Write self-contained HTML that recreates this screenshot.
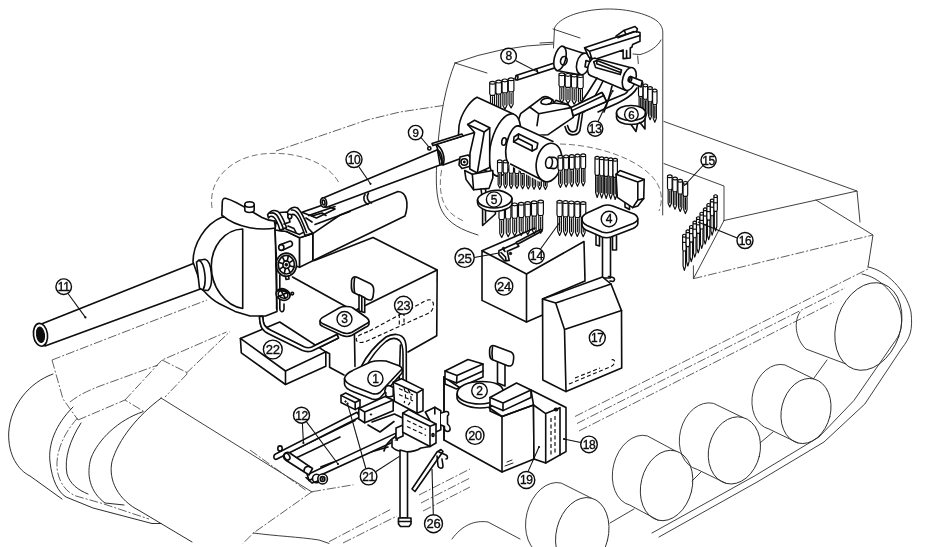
<!DOCTYPE html>
<html><head><meta charset="utf-8"><title>Tank interior diagram</title>
<style>
html,body{margin:0;padding:0;background:#fff;}
body{width:928px;height:547px;overflow:hidden;font-family:"Liberation Sans",sans-serif;}
svg{display:block;}
.h{fill:none;stroke:#2a2a2a;stroke-width:.9;stroke-linecap:round;stroke-linejoin:round;}
.h2{fill:none;stroke:#222;stroke-width:.95;stroke-linecap:round;stroke-linejoin:round;}
.hd{fill:none;stroke:#444;stroke-width:.75;stroke-dasharray:6 3;}
.hc{fill:none;stroke:#383838;stroke-width:.8;stroke-dasharray:9 2 2 2;}
.m{fill:#fff;stroke:#0a0a0a;stroke-width:1.6;stroke-linejoin:round;stroke-linecap:round;}
.n{fill:none;stroke:#0a0a0a;stroke-width:1.6;stroke-linejoin:round;stroke-linecap:round;}
.t{fill:none;stroke:#0a0a0a;stroke-width:.9;stroke-linejoin:round;stroke-linecap:round;}
.k{fill:#0a0a0a;stroke:#0a0a0a;stroke-width:1;}
.md{fill:none;stroke:#0a0a0a;stroke-width:1.15;stroke-dasharray:4 2.5;}
.ld{stroke:#0a0a0a;stroke-width:1.05;}
.lc{fill:#fff;stroke:#0a0a0a;stroke-width:1.4;}
.lt{font-family:"Liberation Sans",sans-serif;text-anchor:middle;fill:#0a0a0a;stroke:#0a0a0a;stroke-width:.35;letter-spacing:-.3px;}
.rd{fill:#fff;stroke:#0a0a0a;stroke-width:1.15;stroke-linejoin:round;}
</style></head><body>
<svg width="928" height="547" viewBox="0 0 928 547">
<defs><filter id="soft" x="0" y="0" width="100%" height="100%" filterUnits="userSpaceOnUse"><feGaussianBlur stdDeviation="0.38"/></filter></defs>
<rect width="928" height="547" fill="#fff"/>
<g filter="url(#soft)">
<g id="hull">
<path class="hc" d="M276,151 L367,120 L400,112 L443,105.5" />
<path class="hd" d="M212,208 C208,180 230,158 262,154 C300,150 330,165 339,183" />
<path class="h" d="M455,63 C446,85 440,115 437.5,150 C435.5,180 435.5,198 442,211 C449,224 462,230 478,235" />
<path class="h" d="M455,63 Q500,46 553,44" />
<path class="h" d="M455,63 L487,73" />
<path class="h" d="M553.5,48 L554.5,28 C559,18 578,11 600,9.3 C625,7.5 648,14 657,21 C661,24.5 662.6,28 662.8,32 L662.7,215" />
<path class="h" d="M553,29 L580,38" />
<path class="h" d="M540,43 L553,42.3" />
<path class="h" d="M633,54 L640,54.6 C650,52 658,46 661,40" />
<path class="h" d="M637.7,56 L638.3,63.6" />
<path class="hd" d="M560,144 C600,145 640,160 655,180 C662,190 663,200 659,211" />
<path class="hd" d="M441.6,170 C438,190 442,206 452,214 C456,217.5 460,219.5 465,221.5" />
<path class="h" d="M664,121.5 L857,191" />
<path class="h" d="M664,163.6 L724,186 L724,220.5" />
<path class="h" d="M724,220.5 L857,191 L860,222" />
<path class="h" d="M816,200 L873,235 L868,267" />
<path class="h" d="M724,220.5 L693.4,278.7 L693.4,265.8" />
<path class="hc" d="M693.4,278.7 L873,235" />
<path class="hc" d="M575,416.5 L868,269" />
<path class="hc" d="M577,423.5 L845,288" />
<path class="hc" d="M579,431 L834,302" />
<path class="h" d="M868,267 C886,270 906,290 911,312 C913,330 910,338 902,348 L864.8,404 L824,442 L758,481.5 L659,537" />
<path class="h" d="M862,274 C880,277 897,295 901,314 C903,328 900,335 893,344 L854,400.4 L819,437 L754.5,476 L652,533" />
<ellipse class="h" cx="868.4" cy="326.5" rx="32" ry="45" transform="rotate(19 868.4 326.5)" />
<path class="h" d="M800,312 C793,322 796,340 806,349 L846,364" />
<ellipse class="h" cx="806" cy="411" rx="24.5" ry="33" transform="rotate(14 806 411)" />
<path class="h" d="M813.983,378.98 L784.983,364.98 A24.5,33 14 0 0 769.017,429.02 L798.017,443.02" />
<ellipse class="h" cx="734.4" cy="450.4" rx="25.6" ry="34" transform="rotate(14 734.4 450.4)" />
<path class="h" d="M742.625,417.41 L713.625,403.41 A25.6,34 14 0 0 697.175,469.39 L726.175,483.39" />
<ellipse class="h" cx="666.6" cy="485.5" rx="25.6" ry="35.7" transform="rotate(14 666.6 485.5)" />
<path class="h" d="M675.237,450.86 L647.237,435.86 A25.6,35.7 14 0 0 629.963,505.14 L657.963,520.14" />
<ellipse class="h" cx="582.3" cy="534" rx="26" ry="37" transform="rotate(14 582.3 534)" />
<path class="h" d="M591.251,498.099 L561.251,483.099 A26,37 14 0 0 543.349,554.901 L573.349,569.901" />
<path class="h" d="M452,539 C462,525 475,520 488,522 L520,539" />
<path class="h" d="M773,432 L760,443" />
<path class="h" d="M827,360 L814,378" />
<path class="h" d="M701,472 L692,481" />
<path class="h" d="M634,509 L610,523" />
<path class="hc" d="M52,360 L207,300" />
<path class="hc" d="M52,360 L63,399 L78,420" />
<path class="hc" d="M78,420 L125,400 L144,411.6" />
<path class="hc" d="M125,400 L162,360 L226.5,332" />
<path class="hc" d="M162,360 L188,373 L165,397" />
<path class="h" d="M161,398 L288,477 L312,492" />
<path class="hc" d="M186,373.5 L230,331.5" />
<path class="hc" d="M70,402 C80,394 90,390 100,386 L158,365" />
<path class="h2" d="M53,374 C30,382 10,405 8.7,433 C8,455 18,470 30,476 L62,499" />
<path class="h2" d="M73,407 C55,425 48,445 50,462 C52,480 58,492 66,497 L93,508 L152,523.5 L161,523.5" />
<path class="hc" d="M77.6,418 C62,435 55,455 57.4,471 C60,485 68,493 76,496 L102,503.4 L149,519" />
<path class="h2" d="M81,423 C70,440 64,458 67,474 C70,484 78,490 88,494" />
<path class="h2" d="M142.8,411.8 C118,420 98,440 91,458 C86,475 90,492 105,503 L124,505" />
<path class="h2" d="M161.4,398 C138,415 118,440 112,461.5 C108,480 118,500 140,511 L192,542" />
<path class="hc" d="M312,491.7 L353.4,484.8" />
<path class="hc" d="M312,491.7 L253.4,533 L243,543.4" />
<path class="h" d="M253.4,533 C275,536 300,537 319,540 L329,543.4" />
<path class="hc" d="M329,541.7 L391.4,509" />
<path class="hc" d="M343,543 L397,516" />
<path class="hc" d="M419,495 L470,469" />
<path class="hc" d="M421,503 L470,478" />
<path class="hc" d="M423,511 L470,487" />
<path class="hc" d="M250,450 L305.5,490" />
</g>
<g id="gun75">
<path class="n" d="M314.4,260.5 L373,237.5 L437.2,270 L436.7,335.7 L408,352" />
<path class="n" d="M437.2,270 L354,311" />
<path class="n" d="M292.5,277 L354,311 L355,366.4" />
<path class="md" d="M369.5,331 L426,300.5 C434,297 436,307 430,312.5 L366,341.5 C356,345 352,338 362,334 Z" />
<path class="md" d="M399.3,314 L399.3,325 M404,312 L404,323" />
<path class="m" d="M39.5,324.7 L198.4,261.5 L203,288 L45,346 Z" />
<ellipse class="m" cx="40.5" cy="334.8" rx="7" ry="11.5" transform="rotate(-8 40.5 334.8)" />
<ellipse class="k" cx="40.5" cy="334.8" rx="4" ry="7.8" transform="rotate(-8 40.5 334.8)" />
<path class="m" d="M222.3,217 C205,224 193,244 193,262 L203,290 C210,298 214,301 219.5,303.7 L235,311.4 L250,316 L265.6,316 L277,311.4 L275,221 Z" />
<path class="m" d="M196.5,262.2 L199,260.2 L205,259.3 C212,261 214,285 208,290.5 L203,290 L199.5,288.3 Z" />
<path class="n" d="M199,260.2 C205,263 207,283 203,290" />
<path class="m" d="M242.7,229 C224,229.5 211.5,247 211.3,266 C211.3,288 226,306 242.7,308.5 Z" />
<path class="m" d="M222.3,202.3 Q222.5,198 225.5,198.2 C238,201.5 250,211 262,217.5 C267,220 271,220.8 274.3,221 L275.7,228 C262,230.5 238,229 221.8,215.2 Z" />
<path class="m" d="M244.8,204.5 L244.8,210.3 C245.5,213.2 253.5,213.2 254.2,210.3 L254.2,204.5" />
<ellipse class="m" cx="249.5" cy="204.5" rx="4.7" ry="2.7" />
<path class="m" d="M312.8,233.6 L340,215 L398,191.5 C407,192 409,204 405,216 L312.8,260.7 Z" />
<path class="n" d="M365,194.5 C362.5,198 364,202.5 368,204.5 M368.5,193 C366,197 367.5,201.5 371.5,203" />
<path class="m" d="M302,212.2 L323.5,204.8 L335,209 L316.5,218 Z" />
<path class="n" d="M308.7,215.5 L335,206.5 M315,224.5 L350,211.5 M306,218 L312,222" />
<path class="m" d="M322,198.5 L437.5,149.8 L440,164.9 L326,207.5 Z" />
<ellipse class="m" cx="323.6" cy="202.5" rx="3" ry="4.7" transform="rotate(-10 323.6 202.5)" />
<ellipse class="n" cx="323.6" cy="202.5" rx="1.3" ry="2.5" transform="rotate(-10 323.6 202.5)" />
<path class="m" d="M275,230 L286.5,231.5 L299.6,237.7 L299.6,267.3 L276.5,259.5 Z" />
<path class="m" d="M299.6,237.7 L312.8,233.6 L312.8,260.7 L299.6,267.3 Z" />
<path class="m" d="M276,222 L287,229.5 L299.6,234.4 L308.7,229.5 L312.8,233.6 L299.6,237.7 L286.5,231.5 L275,230 Z" />
<path class="m" d="M267.6,214.7 C270,211 274,209.5 278,211.5 C281,214 284.5,222 286.5,227.5 L280,230.3 C278.5,225 276,219 273.5,217 C271.5,215.8 269.5,216.5 268.5,218 Z" />
<path class="n" d="M270,213.2 C273,212.3 276,213.5 278,217 C280,220.5 282.5,226 283.5,229" />
<path class="n" d="M279.5,212.5 L287.5,212 L290,222 L284,224" />
<path class="m" d="M287.3,212.2 C289.5,208.5 293.5,206.3 297,207.8 C301,210 305.5,221 308.7,228.7 L312.8,233 L305,235.5 C302.5,228 298.5,218.5 295.5,215.5 C293,213.5 290.5,214.5 289,216.5 Z" />
<path class="n" d="M291.5,210 C295,209.5 297.5,212 299.5,216 C302,221 305,228.5 306.5,232.5" />
<ellipse class="m" cx="289.8" cy="216.5" rx="2" ry="2.2" />
<path class="n" d="M288,226 L294,228.5 L296,232.5" />
<path class="n" d="M312,216 L322,213 L326,215.5" />
<ellipse class="m" cx="286.3" cy="264.7" rx="10.2" ry="11.6" />
<ellipse class="n" cx="286.3" cy="264.7" rx="8" ry="9.3" />
<ellipse class="n" cx="286.3" cy="264.7" rx="3.4" ry="3.8" />
<ellipse class="k" cx="286.3" cy="264.7" rx="1.3" ry="1.4" />
<line class="n" x1="289.6" y1="265.7" x2="294.0" y2="267.1"/>
<line class="n" x1="288.0" y1="268.0" x2="290.3" y2="272.8"/>
<line class="n" x1="285.4" y1="268.4" x2="284.2" y2="273.7"/>
<line class="n" x1="283.4" y1="266.6" x2="279.4" y2="269.3"/>
<line class="n" x1="283.0" y1="263.7" x2="278.6" y2="262.3"/>
<line class="n" x1="284.6" y1="261.4" x2="282.3" y2="256.6"/>
<line class="n" x1="287.2" y1="261.0" x2="288.4" y2="255.7"/>
<line class="n" x1="289.2" y1="262.8" x2="293.2" y2="260.1"/>
<path class="n" d="M285.5,276.3 L286,279.5 L289,279 L288.5,275.8" />
<path class="m" d="M280,244.8 L289.5,241.2 C292.5,240.6 293.5,245 291,246.3 L282.5,250.2" />
<ellipse class="m" cx="281.3" cy="247.5" rx="2.6" ry="2.9" />
<path class="n" d="M276.6,262 L276.6,309 M279.8,275 L279.8,309 C280,312 283,313 284,309.5 L284,304" />
<ellipse class="m" cx="283" cy="294.5" rx="7.2" ry="5.6" transform="rotate(20 283 294.5)" />
<ellipse class="n" cx="283" cy="294.5" rx="5" ry="3.4" transform="rotate(20 283 294.5)" />
<path class="n" d="M277,291 C281,288.5 288,290.5 290.5,295 M278.5,296.5 L287.5,292.5 M281,290.5 L285.5,298.5" />
<ellipse class="n" cx="292.3" cy="293.6" rx="1.3" ry="1.3" />
<path class="m" d="M259.5,316.5 C259.8,327 262.5,331 269,334 L302,350.3 C306,352 310,352 313,350.5 L338.5,338 L337,334.5 L311.7,347 C309.5,348 307,348 304,346.7 L271,330.3 C265,327.5 263,325 262.8,316.5 Z" />
<path class="m" d="M240.4,338.4 L279.7,322 L325.8,351.8 L325.8,366.2 L285.5,384.5 L241.3,352.8 Z" />
<path class="n" d="M325.8,351.8 L329.6,353.7 L329.6,367.2 L344,375" />
<path class="n" d="M240.4,338.4 L285.5,371 L325.8,351.8" />
<path class="n" d="M285.5,371 L285.5,384.5" />
<path class="m" d="M259.5,316.5 C259.8,327 262.5,331 269,334 L302,350.3 C306,352 310,352 313,350.5 L338.5,338 L337,334.5 L311.7,347 C309.5,348 307,348 304,346.7 L271,330.3 C265,327.5 263,325 262.8,316.5 Z" />
<path class="m" d="M351.5,282 C351.3,277.5 354,276 357.5,277.5 L370.5,283.8 C373.8,285.5 374,288.5 373.6,292 L373,297 C372.3,300.5 369.5,300.5 367,299.3 L353.5,292.5 C351.2,291.2 351.2,288 351.5,282 Z" />
<path class="n" d="M354.6,278.3 C353.8,283 353.8,288 354.6,292.7" />
<path class="m" d="M359,294.8 L359,311 L364.7,312.5 L364.7,297.8 Z" />
<path class="n" d="M361.8,296.5 L361.8,311" />
<path class="m" d="M320,321 C320,319.5 320.8,318.6 322.3,317.6 L339.5,307.8 C341.5,306.6 344,306.3 349.8,306.7 C351,306.8 352,307.3 353,308 L366.5,317.5 C368,318.6 369,320 369,321.5 L369,324 C368.8,325.6 367.5,326.5 365.5,327.3 L352,335.3 C349,336.8 345,336.8 341.5,335.3 L323,326.6 C321,325.8 320,325 320,323.5 Z" />
<path class="n" d="M320,321 C320.4,322.4 321.4,323.3 323.4,324 L341.5,332.3 C345,333.8 349,333.8 352,332.3 L365.5,324.3 C367.5,323.5 368.8,322.7 369,321.5" />
</g>
<g id="turret">
<path class="rd" d="M489.7,82.3 Q492.5,80.5 495.3,82.3 L495.3,93.8 L494.516,95.3 L494.516,107.9 L492.5,111.5 L490.484,107.9 L490.484,95.3 L489.7,93.8 Z M489.7,83.5 Q492.5,84.9 495.3,83.5 M490.484,95.3 L494.516,95.3 M492.5,96.3 L492.5,107.9" />
<path class="rd" d="M495.9,81.1 Q498.7,79.3 501.5,81.1 L501.5,92.6 L500.716,94.1 L500.716,106.7 L498.7,110.3 L496.684,106.7 L496.684,94.1 L495.9,92.6 Z M495.9,82.3 Q498.7,83.7 501.5,82.3 M496.684,94.1 L500.716,94.1 M498.7,95.1 L498.7,106.7" />
<path class="rd" d="M502.1,79.9 Q504.9,78.1 507.7,79.9 L507.7,91.4 L506.916,92.9 L506.916,105.5 L504.9,109.1 L502.884,105.5 L502.884,92.9 L502.1,91.4 Z M502.1,81.1 Q504.9,82.5 507.7,81.1 M502.884,92.9 L506.916,92.9 M504.9,93.9 L504.9,105.5" />
<path class="rd" d="M508.3,78.7 Q511.1,76.9 513.9,78.7 L513.9,90.2 L513.116,91.7 L513.116,104.3 L511.1,107.9 L509.084,104.3 L509.084,91.7 L508.3,90.2 Z M508.3,79.9 Q511.1,81.3 513.9,79.9 M509.084,91.7 L513.116,91.7 M511.1,92.7 L511.1,104.3" />
<path class="rd" d="M559,73.8 Q561.8,72 564.6,73.8 L564.6,85.3 L563.816,86.8 L563.816,99.4 L561.8,103 L559.784,99.4 L559.784,86.8 L559,85.3 Z M559,75 Q561.8,76.4 564.6,75 M559.784,86.8 L563.816,86.8 M561.8,87.8 L561.8,99.4" />
<path class="rd" d="M565.2,74.4 Q568,72.6 570.8,74.4 L570.8,85.9 L570.016,87.4 L570.016,100 L568,103.6 L565.984,100 L565.984,87.4 L565.2,85.9 Z M565.2,75.6 Q568,77 570.8,75.6 M565.984,87.4 L570.016,87.4 M568,88.4 L568,100" />
<path class="rd" d="M571.4,75 Q574.2,73.2 577,75 L577,86.5 L576.216,88 L576.216,100.6 L574.2,104.2 L572.184,100.6 L572.184,88 L571.4,86.5 Z M571.4,76.2 Q574.2,77.6 577,76.2 M572.184,88 L576.216,88 M574.2,89 L574.2,100.6" />
<path class="rd" d="M577.6,75.6 Q580.4,73.8 583.2,75.6 L583.2,87.1 L582.416,88.6 L582.416,101.2 L580.4,104.8 L578.384,101.2 L578.384,88.6 L577.6,87.1 Z M577.6,76.8 Q580.4,78.2 583.2,76.8 M578.384,88.6 L582.416,88.6 M580.4,89.6 L580.4,101.2" />
<path class="rd" d="M638.5,82.3 Q640.7,80.5 642.9,82.3 L642.9,95.03 L642.284,96.68 L642.284,110.54 L640.7,114.5 L639.116,110.54 L639.116,96.68 L638.5,95.03 Z M638.5,83.5 Q640.7,84.9 642.9,83.5 M639.116,96.68 L642.284,96.68 M640.7,97.68 L640.7,110.54" />
<path class="rd" d="M643.2,84.9 Q645.4,83.1 647.6,84.9 L647.6,97.63 L646.984,99.28 L646.984,113.14 L645.4,117.1 L643.816,113.14 L643.816,99.28 L643.2,97.63 Z M643.2,86.1 Q645.4,87.5 647.6,86.1 M643.816,99.28 L646.984,99.28 M645.4,100.28 L645.4,113.14" />
<path class="rd" d="M647.9,87.5 Q650.1,85.7 652.3,87.5 L652.3,100.23 L651.684,101.88 L651.684,115.74 L650.1,119.7 L648.516,115.74 L648.516,101.88 L647.9,100.23 Z M647.9,88.7 Q650.1,90.1 652.3,88.7 M648.516,101.88 L651.684,101.88 M650.1,102.88 L650.1,115.74" />
<path class="rd" d="M652.6,90.1 Q654.8,88.3 657,90.1 L657,102.83 L656.384,104.48 L656.384,118.34 L654.8,122.3 L653.216,118.34 L653.216,104.48 L652.6,102.83 Z M652.6,91.3 Q654.8,92.7 657,91.3 M653.216,104.48 L656.384,104.48 M654.8,105.48 L654.8,118.34" />
<path class="m" d="M516,75.6 L563.5,60 L565,64.6 L517.3,80 Z" />
<ellipse class="m" cx="516.6" cy="77.8" rx="1.2" ry="2.2" transform="rotate(18 516.6 77.8)" />
<path class="n" d="M536.5,68.8 L538,73.3" />
<path class="m" d="M561.3,46.2 L583.3,53.3 L580,74.8 L556.5,70.5 Z" />
<ellipse class="m" cx="560" cy="58.4" rx="5.6" ry="12.4" transform="rotate(14 560 58.4)" />
<ellipse class="m" cx="583.3" cy="63.9" rx="6.5" ry="11" transform="rotate(14 583.3 63.9)" />
<ellipse class="n" cx="563.8" cy="60.8" rx="3.2" ry="4.4" transform="rotate(14 563.8 60.8)" />
<path class="m" d="M586,60.5 L592,62.5 L591,68.5 L585,66.8 Z" />
<path class="m" d="M584.6,47.8 L614.4,37.8 L635.7,31.5 L640,32.5 L640,41.3 L632.6,44.6 L632,47 L630.3,48 L630.3,58 L623.1,58.6 L623.1,49.9 L594.6,59.6 L588.7,57 Z" />
<path class="n" d="M584.6,47.8 L589.5,51.3 L640,35.5 M589.5,51.3 L591.7,58.5 M626.6,50.5 L626.6,58.3" />
<path class="n" d="M616,36.2 L624.3,30.2 L635,26.5 L637.4,28.8 L636.5,32 M624.3,30.2 L625.5,33.5 M618,37.8 L634,31.5" />
<ellipse class="m" cx="592.5" cy="66.8" rx="4.4" ry="8.8" transform="rotate(16 592.5 66.8)" />
<path d="M594.8,58.2 L630.5,67.5 L624,90.2 L590.3,75.5 Z" fill="#fff" stroke="none"/>
<path class="n" d="M594.8,58.2 L632,68 M590.3,75.5 L626,90.5" />
<ellipse class="m" cx="629.3" cy="79" rx="6.5" ry="11.8" transform="rotate(16 629.3 79)" />
<path class="n" d="M593.7,61.7 L597,60.4 L621.5,70 L620.2,74.6 L595.6,67.5 Z" />
<path class="n" d="M597,60.4 L596.6,63.8 L620.8,72.4" />
<path class="m" d="M630.5,76.6 L642.2,81.1 L641,87 L629.3,81.7 Z" />
<ellipse class="n" cx="630" cy="79.2" rx="1.7" ry="2.7" transform="rotate(16 630 79.2)" />
<path class="n" d="M597,78 C590,90 583,100 577,108 M603,81 C598,92 590,104 584,112" />
<path class="n" d="M637,88 C630,100 610,106 598,112" />
<path class="n" d="M612,86 C610,95 607,104 604,112" />
<path class="n" d="M579.5,114 L577,128.5 C576,132.5 571,133 569,129.5 L567.5,125.5 M582.5,113.5 L580,130 C578.5,136 569.5,136.5 566.5,131 L565,126.5" />
<path class="n" d="M571,107.6 L602,92.5 L603.8,95.5 L606.5,101.6 L624.6,94 C626.5,93 627.5,92 628,90.5 M606.5,101.6 L573.3,116" />
<path class="m" d="M571,107.6 L602,92.5 L606.5,101.6 L573.3,116 Z" />
<path class="n" d="M572,110.6 L603.8,95.5" />
<path class="m" d="M520.6,113.7 L529.6,107 L541.7,97.8 C544,96.5 546,96.3 547.7,97 L553,100 L553.7,103 L568,104.6 L571,107.6 L573.3,117.4 L547.7,134.8 L513,136.3 Z" />
<path class="n" d="M529.6,107 L538.7,113.7 L537,125.7 M538.7,113.7 L571,107.6" />
<path class="m" d="M541,101.6 C542,98.6 548,97 551.5,99.3 C553,101 551,103.6 548,104.3 C544,105 540.5,104 541,101.6 Z" />
<path class="n" d="M553.7,103 L556,100.3 L568,104.6 M548,104.3 L553.7,103" />
<path class="m" d="M513.3,114 L477,97.3 C470,101 461,113 459,126 C457.5,140 459,152 463,160 L496.7,176 Z" />
<ellipse class="m" cx="505" cy="145" rx="14" ry="32" transform="rotate(15 505 145)" />
<path class="m" d="M436,144.3 L474.6,132.6 L477,152.5 L443,164.9 Z" />
<path class="n" d="M437.5,149.8 C441.5,152 443.5,160 441,165.2 M436,144.5 C442,147 446,158 443,165" />
<path class="m" d="M432,143.6 L462,134 L463,136 L433,145.6 Z" />
<ellipse class="n" cx="429.3" cy="148.4" rx="1.6" ry="1.6" />
<path class="m" d="M460,157 L468,155 L471,158 L471,166 L462,168.5 L459,165 Z" />
<ellipse class="n" cx="464.3" cy="162" rx="3.3" ry="3.3" />
<ellipse class="k" cx="464.3" cy="162" rx="1" ry="1" />
<path class="m" d="M467.7,124.4 L474.6,120.3 L489.7,127.8 L489.7,167.6 L477.3,173 L469.8,169 L470,153 L474.6,132.6 Z" />
<path class="n" d="M467.7,124.4 L484.2,132 L489.7,127.8 M484.2,132 L477.3,173" />
<path class="m" d="M464.7,170.5 L472.3,174.3 L492.8,170.5 L492.8,178 L489,188.4 L473.6,189.7 L466,179.4 Z" />
<path class="n" d="M472.3,174.3 L473.6,189.7" />
<path class="n" d="M481,189 L482,196 L486,196 L485.5,188.7" />
<path class="rd" d="M497.5,160.8 Q499.8,159 502.1,160.8 L502.1,171.48 L501.456,172.88 L501.456,184.64 L499.8,188 L498.144,184.64 L498.144,172.88 L497.5,171.48 Z M497.5,162 Q499.8,163.4 502.1,162 M498.144,172.88 L501.456,172.88 M499.8,173.88 L499.8,184.64" />
<path class="rd" d="M503.2,161 Q505.5,159.2 507.8,161 L507.8,171.68 L507.156,173.08 L507.156,184.84 L505.5,188.2 L503.844,184.84 L503.844,173.08 L503.2,171.68 Z M503.2,162.2 Q505.5,163.6 507.8,162.2 M503.844,173.08 L507.156,173.08 M505.5,174.08 L505.5,184.84" />
<path class="rd" d="M508.9,161.2 Q511.2,159.4 513.5,161.2 L513.5,171.88 L512.856,173.28 L512.856,185.04 L511.2,188.4 L509.544,185.04 L509.544,173.28 L508.9,171.88 Z M508.9,162.4 Q511.2,163.8 513.5,162.4 M509.544,173.28 L512.856,173.28 M511.2,174.28 L511.2,185.04" />
<path class="rd" d="M514.6,161.4 Q516.9,159.6 519.2,161.4 L519.2,172.08 L518.556,173.48 L518.556,185.24 L516.9,188.6 L515.244,185.24 L515.244,173.48 L514.6,172.08 Z M514.6,162.6 Q516.9,164 519.2,162.6 M515.244,173.48 L518.556,173.48 M516.9,174.48 L516.9,185.24" />
<path class="rd" d="M520.3,161.6 Q522.6,159.8 524.9,161.6 L524.9,172.28 L524.256,173.68 L524.256,185.44 L522.6,188.8 L520.944,185.44 L520.944,173.68 L520.3,172.28 Z M520.3,162.8 Q522.6,164.2 524.9,162.8 M520.944,173.68 L524.256,173.68 M522.6,174.68 L522.6,185.44" />
<path class="rd" d="M526,161.8 Q528.3,160 530.6,161.8 L530.6,172.48 L529.956,173.88 L529.956,185.64 L528.3,189 L526.644,185.64 L526.644,173.88 L526,172.48 Z M526,163 Q528.3,164.4 530.6,163 M526.644,173.88 L529.956,173.88 M528.3,174.88 L528.3,185.64" />
<path class="rd" d="M531.7,162 Q534,160.2 536.3,162 L536.3,172.68 L535.656,174.08 L535.656,185.84 L534,189.2 L532.344,185.84 L532.344,174.08 L531.7,172.68 Z M531.7,163.2 Q534,164.6 536.3,163.2 M532.344,174.08 L535.656,174.08 M534,175.08 L534,185.84" />
<path class="rd" d="M537.4,162.2 Q539.7,160.4 542,162.2 L542,172.88 L541.356,174.28 L541.356,186.04 L539.7,189.4 L538.044,186.04 L538.044,174.28 L537.4,172.88 Z M537.4,163.4 Q539.7,164.8 542,163.4 M538.044,174.28 L541.356,174.28 M539.7,175.28 L539.7,186.04" />
<path class="rd" d="M543.1,162.4 Q545.4,160.6 547.7,162.4 L547.7,173.08 L547.056,174.48 L547.056,186.24 L545.4,189.6 L543.744,186.24 L543.744,174.48 L543.1,173.08 Z M543.1,163.6 Q545.4,165 547.7,163.6 M543.744,174.48 L547.056,174.48 M545.4,175.48 L545.4,186.24" />
<ellipse class="m" cx="514.5" cy="145" rx="8" ry="19.5" transform="rotate(12 514.5 145)" />
<path d="M520,126 L558.6,142.4 L561,175 L539.4,181.7 L508.7,164.5 Z" fill="#fff" stroke="none"/>
<path class="n" d="M518.6,125.8 L553,141.5 M510.5,164 L545,181.5" />
<ellipse class="m" cx="549" cy="162.5" rx="12.5" ry="19.5" transform="rotate(12 549 162.5)" />
<path class="n" d="M514,137 L518.6,134 L537.8,143.3 L536.8,148.5 L532.2,151 L513.6,141.8 Z" />
<path class="n" d="M518.6,134 L518.2,138.5 L532.2,145.5 L532.2,151 M518.2,138.5 L513.6,141.8" />
<ellipse class="m" cx="504" cy="141.5" rx="2.2" ry="3.8" transform="rotate(10 504 141.5)" />
<path class="m" d="M549,157.4 L554,157.2 C559,158 559,168 554,168.6 L549,168" />
<ellipse class="m" cx="549" cy="162.7" rx="3.4" ry="5.5" transform="rotate(8 549 162.7)" />
<path class="rd" d="M558,156.3 Q560.4,154.5 562.8,156.3 L562.8,168.62 L562.128,170.22 L562.128,183.66 L560.4,187.5 L558.672,183.66 L558.672,170.22 L558,168.62 Z M558,157.5 Q560.4,158.9 562.8,157.5 M558.672,170.22 L562.128,170.22 M560.4,171.22 L560.4,183.66" />
<path class="rd" d="M563.7,155.9 Q566.1,154.1 568.5,155.9 L568.5,168.22 L567.828,169.82 L567.828,183.26 L566.1,187.1 L564.372,183.26 L564.372,169.82 L563.7,168.22 Z M563.7,157.1 Q566.1,158.5 568.5,157.1 M564.372,169.82 L567.828,169.82 M566.1,170.82 L566.1,183.26" />
<path class="rd" d="M569.4,155.5 Q571.8,153.7 574.2,155.5 L574.2,167.82 L573.528,169.42 L573.528,182.86 L571.8,186.7 L570.072,182.86 L570.072,169.42 L569.4,167.82 Z M569.4,156.7 Q571.8,158.1 574.2,156.7 M570.072,169.42 L573.528,169.42 M571.8,170.42 L571.8,182.86" />
<path class="rd" d="M575.1,155.1 Q577.5,153.3 579.9,155.1 L579.9,167.42 L579.228,169.02 L579.228,182.46 L577.5,186.3 L575.772,182.46 L575.772,169.02 L575.1,167.42 Z M575.1,156.3 Q577.5,157.7 579.9,156.3 M575.772,169.02 L579.228,169.02 M577.5,170.02 L577.5,182.46" />
<path class="rd" d="M580.8,154.7 Q583.2,152.9 585.6,154.7 L585.6,167.02 L584.928,168.62 L584.928,182.06 L583.2,185.9 L581.472,182.06 L581.472,168.62 L580.8,167.02 Z M580.8,155.9 Q583.2,157.3 585.6,155.9 M581.472,168.62 L584.928,168.62 M583.2,169.62 L583.2,182.06" />
<path class="rd" d="M595,157.3 Q597.2,155.5 599.4,157.3 L599.4,173.31 L598.784,175.36 L598.784,192.58 L597.2,197.5 L595.616,192.58 L595.616,175.36 L595,173.31 Z M595,158.5 Q597.2,159.9 599.4,158.5 M595.616,175.36 L598.784,175.36 M597.2,176.36 L597.2,192.58" />
<path class="rd" d="M599.5,157.8 Q601.7,156 603.9,157.8 L603.9,173.81 L603.284,175.86 L603.284,193.08 L601.7,198 L600.116,193.08 L600.116,175.86 L599.5,173.81 Z M599.5,159 Q601.7,160.4 603.9,159 M600.116,175.86 L603.284,175.86 M601.7,176.86 L601.7,193.08" />
<path class="rd" d="M604,158.3 Q606.2,156.5 608.4,158.3 L608.4,174.31 L607.784,176.36 L607.784,193.58 L606.2,198.5 L604.616,193.58 L604.616,176.36 L604,174.31 Z M604,159.5 Q606.2,160.9 608.4,159.5 M604.616,176.36 L607.784,176.36 M606.2,177.36 L606.2,193.58" />
<path class="rd" d="M608.5,158.8 Q610.7,157 612.9,158.8 L612.9,174.81 L612.284,176.86 L612.284,194.08 L610.7,199 L609.116,194.08 L609.116,176.86 L608.5,174.81 Z M608.5,160 Q610.7,161.4 612.9,160 M609.116,176.86 L612.284,176.86 M610.7,177.86 L610.7,194.08" />
<path class="rd" d="M613,159.3 Q615.2,157.5 617.4,159.3 L617.4,175.31 L616.784,177.36 L616.784,194.58 L615.2,199.5 L613.616,194.58 L613.616,177.36 L613,175.31 Z M613,160.5 Q615.2,161.9 617.4,160.5 M613.616,177.36 L616.784,177.36 M615.2,178.36 L615.2,194.58" />
<path class="n" d="M625,200 L625,207 L629.5,209.5 L629.5,203" />
<path class="m" d="M616,174.3 L620,170.5 L644.2,179.4 L643.7,198.6 L637.8,206 L632.7,207.6 L617.3,197.3 Z" />
<path class="n" d="M616,174.3 L637.8,182 L644.2,179.4 M637.8,182 L637.8,200 L632.7,207.6 M637.8,200 L643.7,198.6" />
<path class="rd" d="M499,205.3 Q501.7,203.5 504.4,205.3 L504.4,218.03 L503.644,219.68 L503.644,233.54 L501.7,237.5 L499.756,233.54 L499.756,219.68 L499,218.03 Z M499,206.5 Q501.7,207.9 504.4,206.5 M499.756,219.68 L503.644,219.68 M501.7,220.68 L501.7,233.54" />
<path class="rd" d="M505.5,204.6 Q508.2,202.8 510.9,204.6 L510.9,217.33 L510.144,218.98 L510.144,232.84 L508.2,236.8 L506.256,232.84 L506.256,218.98 L505.5,217.33 Z M505.5,205.8 Q508.2,207.2 510.9,205.8 M506.256,218.98 L510.144,218.98 M508.2,219.98 L508.2,232.84" />
<path class="rd" d="M512,203.9 Q514.7,202.1 517.4,203.9 L517.4,216.63 L516.644,218.28 L516.644,232.14 L514.7,236.1 L512.756,232.14 L512.756,218.28 L512,216.63 Z M512,205.1 Q514.7,206.5 517.4,205.1 M512.756,218.28 L516.644,218.28 M514.7,219.28 L514.7,232.14" />
<path class="rd" d="M518.5,203.2 Q521.2,201.4 523.9,203.2 L523.9,215.93 L523.144,217.58 L523.144,231.44 L521.2,235.4 L519.256,231.44 L519.256,217.58 L518.5,215.93 Z M518.5,204.4 Q521.2,205.8 523.9,204.4 M519.256,217.58 L523.144,217.58 M521.2,218.58 L521.2,231.44" />
<path class="rd" d="M525,202.5 Q527.7,200.7 530.4,202.5 L530.4,215.23 L529.644,216.88 L529.644,230.74 L527.7,234.7 L525.756,230.74 L525.756,216.88 L525,215.23 Z M525,203.7 Q527.7,205.1 530.4,203.7 M525.756,216.88 L529.644,216.88 M527.7,217.88 L527.7,230.74" />
<path class="rd" d="M531.5,201.8 Q534.2,200 536.9,201.8 L536.9,214.53 L536.144,216.18 L536.144,230.04 L534.2,234 L532.256,230.04 L532.256,216.18 L531.5,214.53 Z M531.5,203 Q534.2,204.4 536.9,203 M532.256,216.18 L536.144,216.18 M534.2,217.18 L534.2,230.04" />
<path class="rd" d="M538,201.1 Q540.7,199.3 543.4,201.1 L543.4,213.83 L542.644,215.48 L542.644,229.34 L540.7,233.3 L538.756,229.34 L538.756,215.48 L538,213.83 Z M538,202.3 Q540.7,203.7 543.4,202.3 M538.756,215.48 L542.644,215.48 M540.7,216.48 L540.7,229.34" />
<path class="rd" d="M557,201.3 Q559.6,199.5 562.2,201.3 L562.2,214.85 L561.472,216.6 L561.472,231.3 L559.6,235.5 L557.728,231.3 L557.728,216.6 L557,214.85 Z M557,202.5 Q559.6,203.9 562.2,202.5 M557.728,216.6 L561.472,216.6 M559.6,217.6 L559.6,231.3" />
<path class="rd" d="M562.9,201.6 Q565.5,199.8 568.1,201.6 L568.1,215.15 L567.372,216.9 L567.372,231.6 L565.5,235.8 L563.628,231.6 L563.628,216.9 L562.9,215.15 Z M562.9,202.8 Q565.5,204.2 568.1,202.8 M563.628,216.9 L567.372,216.9 M565.5,217.9 L565.5,231.6" />
<path class="rd" d="M568.8,201.9 Q571.4,200.1 574,201.9 L574,215.45 L573.272,217.2 L573.272,231.9 L571.4,236.1 L569.528,231.9 L569.528,217.2 L568.8,215.45 Z M568.8,203.1 Q571.4,204.5 574,203.1 M569.528,217.2 L573.272,217.2 M571.4,218.2 L571.4,231.9" />
<path class="rd" d="M574.7,202.2 Q577.3,200.4 579.9,202.2 L579.9,215.75 L579.172,217.5 L579.172,232.2 L577.3,236.4 L575.428,232.2 L575.428,217.5 L574.7,215.75 Z M574.7,203.4 Q577.3,204.8 579.9,203.4 M575.428,217.5 L579.172,217.5 M577.3,218.5 L577.3,232.2" />
<path class="rd" d="M580.6,202.5 Q583.2,200.7 585.8,202.5 L585.8,216.05 L585.072,217.8 L585.072,232.5 L583.2,236.7 L581.328,232.5 L581.328,217.8 L580.6,216.05 Z M580.6,203.7 Q583.2,205.1 585.8,203.7 M581.328,217.8 L585.072,217.8 M583.2,218.8 L583.2,232.5" />
<path class="m" d="M482.6,207 L482.6,225.5 L495.4,214 L495.4,209 Z" />
<path class="n" d="M485.5,210 L485.5,221 " />
<path class="m" d="M477.5,200 C477.5,197 481,194.5 486.4,192.2 C491,190.3 495,189.8 499.2,190.4 C505,191.5 512,195.5 512,198.6 L512,203.7 C512,206.5 507,209 501.8,210.5 C497,211.8 491,211.8 486.4,210.5 C481.5,208.8 477.5,206 477.5,202.5 Z" />
<path class="n" d="M477.5,200 C478,203 482,205.8 486.4,207 C491,208.2 497,208.2 501.8,207 C507,205.5 511.5,202.5 512,198.6" />
<path class="m" d="M602.5,236 L602.5,278 L610.5,278 L610.5,236 Z" />
<path class="m" d="M582,219 C582,216 584,214.5 587,213 L603,205.8 C606,204.8 609,204.8 612,205.8 L634,214 C637,215.5 638,217.5 637.8,220 L637.8,223.7 C637.6,226 636,227 633,228.5 L611,237 C608,238 605,238 602,237 L586,230 C583,228.5 582,226 582,224 Z" />
<path class="n" d="M582,219 C582,222 584,224 587,225.5 L602,232 C605,233 608,233 611,232 L633,223.5 C636,222 637.8,221 637.8,219" />
<path class="n" d="M596,235.5 L596,245 L599.5,246 L599.5,236.5 M612.5,237 L612.5,250 L616.5,250 L616.5,236" />
<path class="m" d="M616.5,113 C616.5,108.5 623,105.5 631,105.5 C639,105.5 645.5,108.5 645.5,113 L645.5,117 C645.5,121.5 639,124.5 631,124.5 C623,124.5 616.5,121.5 616.5,117 Z" />
<path class="n" d="M616.5,113 C616.5,117.5 623,120.5 631,120.5 C639,120.5 645.5,117.5 645.5,113" />
<path class="n" d="M631,124.5 L636,131.5 L637.5,124 M640,122.5 L645,129 L645,119" />
</g>
<g id="interior">
<path class="rd" d="M667.5,175.8 Q669.8,174 672.1,175.8 L672.1,188.12 L671.456,189.72 L671.456,203.16 L669.8,207 L668.144,203.16 L668.144,189.72 L667.5,188.12 Z M667.5,177 Q669.8,178.4 672.1,177 M668.144,189.72 L671.456,189.72 M669.8,190.72 L669.8,203.16" />
<path class="rd" d="M672.7,178 Q675,176.2 677.3,178 L677.3,190.32 L676.656,191.92 L676.656,205.36 L675,209.2 L673.344,205.36 L673.344,191.92 L672.7,190.32 Z M672.7,179.2 Q675,180.6 677.3,179.2 M673.344,191.92 L676.656,191.92 M675,192.92 L675,205.36" />
<path class="rd" d="M677.9,180.2 Q680.2,178.4 682.5,180.2 L682.5,192.52 L681.856,194.12 L681.856,207.56 L680.2,211.4 L678.544,207.56 L678.544,194.12 L677.9,192.52 Z M677.9,181.4 Q680.2,182.8 682.5,181.4 M678.544,194.12 L681.856,194.12 M680.2,195.12 L680.2,207.56" />
<path class="rd" d="M683.1,182.4 Q685.4,180.6 687.7,182.4 L687.7,194.72 L687.056,196.32 L687.056,209.76 L685.4,213.6 L683.744,209.76 L683.744,196.32 L683.1,194.72 Z M683.1,183.6 Q685.4,185 687.7,183.6 M683.744,196.32 L687.056,196.32 M685.4,197.32 L685.4,209.76" />
<path class="rd" d="M682.6,235.2 Q684.35,233.4 686.1,235.2 L686.1,249.16 L685.61,250.96 L685.61,266.08 L684.35,270.4 L683.09,266.08 L683.09,250.96 L682.6,249.16 Z M682.6,236.4 Q684.35,237.8 686.1,236.4 M683.09,250.96 L685.61,250.96 " />
<path class="rd" d="M682.6,242.4 L686.1,242.4" />
<path class="rd" d="M686.07,230.8 Q687.82,229 689.57,230.8 L689.57,244.76 L689.08,246.56 L689.08,261.68 L687.82,266 L686.56,261.68 L686.56,246.56 L686.07,244.76 Z M686.07,232 Q687.82,233.4 689.57,232 M686.56,246.56 L689.08,246.56 " />
<path class="rd" d="M686.07,238 L689.57,238" />
<path class="rd" d="M689.54,226.4 Q691.29,224.6 693.04,226.4 L693.04,240.36 L692.55,242.16 L692.55,257.28 L691.29,261.6 L690.03,257.28 L690.03,242.16 L689.54,240.36 Z M689.54,227.6 Q691.29,229 693.04,227.6 M690.03,242.16 L692.55,242.16 " />
<path class="rd" d="M689.54,233.6 L693.04,233.6" />
<path class="rd" d="M693.01,222 Q694.76,220.2 696.51,222 L696.51,235.96 L696.02,237.76 L696.02,252.88 L694.76,257.2 L693.5,252.88 L693.5,237.76 L693.01,235.96 Z M693.01,223.2 Q694.76,224.6 696.51,223.2 M693.5,237.76 L696.02,237.76 " />
<path class="rd" d="M693.01,229.2 L696.51,229.2" />
<path class="rd" d="M696.48,217.6 Q698.23,215.8 699.98,217.6 L699.98,231.56 L699.49,233.36 L699.49,248.48 L698.23,252.8 L696.97,248.48 L696.97,233.36 L696.48,231.56 Z M696.48,218.8 Q698.23,220.2 699.98,218.8 M696.97,233.36 L699.49,233.36 " />
<path class="rd" d="M696.48,224.8 L699.98,224.8" />
<path class="rd" d="M699.95,213.2 Q701.7,211.4 703.45,213.2 L703.45,227.16 L702.96,228.96 L702.96,244.08 L701.7,248.4 L700.44,244.08 L700.44,228.96 L699.95,227.16 Z M699.95,214.4 Q701.7,215.8 703.45,214.4 M700.44,228.96 L702.96,228.96 " />
<path class="rd" d="M699.95,220.4 L703.45,220.4" />
<path class="rd" d="M703.42,208.8 Q705.17,207 706.92,208.8 L706.92,222.76 L706.43,224.56 L706.43,239.68 L705.17,244 L703.91,239.68 L703.91,224.56 L703.42,222.76 Z M703.42,210 Q705.17,211.4 706.92,210 M703.91,224.56 L706.43,224.56 " />
<path class="rd" d="M703.42,216 L706.92,216" />
<path class="rd" d="M706.89,204.4 Q708.64,202.6 710.39,204.4 L710.39,218.36 L709.9,220.16 L709.9,235.28 L708.64,239.6 L707.38,235.28 L707.38,220.16 L706.89,218.36 Z M706.89,205.6 Q708.64,207 710.39,205.6 M707.38,220.16 L709.9,220.16 " />
<path class="rd" d="M706.89,211.6 L710.39,211.6" />
<path class="rd" d="M710.36,200 Q712.11,198.2 713.86,200 L713.86,213.96 L713.37,215.76 L713.37,230.88 L712.11,235.2 L710.85,230.88 L710.85,215.76 L710.36,213.96 Z M710.36,201.2 Q712.11,202.6 713.86,201.2 M710.85,215.76 L713.37,215.76 " />
<path class="rd" d="M710.36,207.2 L713.86,207.2" />
<path class="rd" d="M713.83,195.6 Q715.58,193.8 717.33,195.6 L717.33,209.56 L716.84,211.36 L716.84,226.48 L715.58,230.8 L714.32,226.48 L714.32,211.36 L713.83,209.56 Z M713.83,196.8 Q715.58,198.2 717.33,196.8 M714.32,211.36 L716.84,211.36 " />
<path class="rd" d="M713.83,202.8 L717.33,202.8" />
<path class="m" d="M482,250.7 L526.5,274 L584,241.5 L585,281 L542.6,299 L542.6,315 L526.5,322 L482,300.4 Z" />
<path class="n" d="M526.5,274 L526.5,322" />
<path class="n" d="M482,250.7 L535,228" />
<path class="n" d="M516.3,242.3 L541,229.3 L542,231 L517.5,244.3" />
<path class="m" d="M498.9,250.7 L516.3,243 L518.9,246.2 L507.3,251.3 L509.2,260.4 L504.7,261 L498.9,254.6 Z" />
<path class="n" d="M501,252.5 L505.5,257 L506,260.5 M503,249 L505,251.5" />
<ellipse class="k" cx="503.5" cy="248.5" rx="1.2" ry="1.2" />
<ellipse class="k" cx="510.5" cy="253.5" rx="1.2" ry="1.2" />
<path class="m" d="M542.6,299 L602.5,277 L611,284 L621.5,310.6 L621.7,368 L566,391.6 L542.8,380 Z" />
<path class="n" d="M542.6,299 L555.7,303 L611,284 M555.7,303 L564.5,329.6 L621.5,310.6 M564.5,329.6 L566,391.6" />
<path class="md" d="M569,384 L610,367 C616,365 616,358 611,360 M575,378 L600,368" />
<path class="n" d="M608.5,276.5 L613,277.5 C615,278 615,281 613,281.5 L610,281" />
<path class="m" d="M444,377 L444,440 L502,472 L534,459 L533.5,405 L502,416.5 Z" />
<path class="n" d="M502,416.5 L502,472" />
<path class="n" d="M444,377 L468,365" />
<path class="m" d="M497.5,361 L497.5,383 L505,386 L505,362 Z" />
<path class="m" d="M489.6,350 C489.5,346 492,345 495,346 L511,352 C514,353.5 514,356 513.6,359 L513,363 C512.5,366 510,366.5 507,365.5 L492,359.5 C489.5,358.5 489.5,355 489.6,350 Z" />
<path class="n" d="M492.5,347 C491.8,351 491.8,355 492.5,359.5" />
<path class="m" d="M445,371 L468,359.5 L483,364 L483,371 L456.5,383 L445,378.5 Z" />
<path class="n" d="M445,371 L457,375.5 L483,364 M457,375.5 L456.5,383" />
<path class="n" d="M445,378.5 L445,384 L456.5,389 L483,377 L483,371" />
<path class="m" d="M457,394 C457,386 468,381.5 482,381.5 C494,381.5 503,385 503,391 L503,396 C503,403 493,408 480,408 C467,408 457,402 457,398 Z" />
<path class="n" d="M457,394 C458,400 468,404 480,404 C492,404 503,398 503,391" />
<path class="m" d="M490,397.5 L516.5,383 L531,390 L531,397.5 L503,410.6 L490,405 Z" />
<path class="n" d="M490,397.5 L503,403 L531,390 M503,403 L503,410.6" />
<path class="n" d="M490,405 L490,411 L502,416.5 L533.5,405" />
<path class="m" d="M531,390 L566,407.5 L566,451.6 L545.7,463 L534,459 L533.5,405 Z" />
<path class="n" d="M533.5,405 L545.7,413.6 L545.7,463 M545.7,413.6 L560,407.7 L560,455" />
<path class="md" d="M551,418 L551,456 M555,416 L555,454" />
<ellipse class="n" cx="556" cy="409.5" rx="1.6" ry="1.2" />
<path class="n" d="M444,440 L444,377" />
<path class="t" d="M505,466 L513,463 M507,462 L512,460" />
<path class="m" d="M361,366.8 C366,357 373,347 386,337 C392,333.5 402,332.5 405,340.7 C406.5,345 406.3,350 406.3,354 L406.3,381 L403,381 L403,354 C403,347 402,343 399.5,340.5 C395,337 390,338.5 386,341.5 C378,348 370,359 365,368.5 Z" />
<path class="n" d="M400.4,345 L399.2,380" />
<path class="m" d="M344.5,378.7 C345,375.5 348,372.5 352.8,370.4 L370.6,362 C375,360.6 381,360.6 386,361 L399,365.7 C402,367 403,370 402,373 L380,398 C378,399.5 375,399.8 372,399 L354,392 C349,390 344.5,387 344.5,384 Z" />
<path class="n" d="M344.5,378.7 C345,382 349,384.5 354,386.6 L372,393.5 C375,394.3 378,394 380,392.5 L402,369" />
<path class="n" d="M290,452 L355,420.5 M296,458 L340,437" />
<path class="n" d="M320.7,467 C335,461 355,455 372.5,451.5 L388,447" />
<path class="m" d="M276.5,453.5 L357,412.3 L360,417 L276.5,459.3 C273.5,460 272.5,455 276.5,453.5 Z" />
<ellipse class="m" cx="280" cy="448.5" rx="2.2" ry="2.6" />
<path class="m" d="M307.2,474.6 L395.5,433.4 L397.4,440 L309,480.4 Z" />
<path class="m" d="M284.5,453.8 C286,452 289,452 290.5,453.5 L312.5,468.5 L309,475 L285.5,460 C283,458 283,455.5 284.5,453.8 Z" />
<ellipse class="n" cx="287" cy="456.6" rx="2.6" ry="3.6" transform="rotate(-30 287 456.6)" />
<path class="n" d="M304,471 C304,467 308,465 311,467.5" />
<ellipse class="m" cx="316.5" cy="478.5" rx="4" ry="4.3" />
<ellipse class="m" cx="322.6" cy="479" rx="4.8" ry="5" />
<ellipse class="n" cx="322.6" cy="479" rx="2.3" ry="2.4" />
<ellipse class="k" cx="322.6" cy="479" rx="0.8" ry="0.8" />
<path class="n" d="M306,477.5 L312,483 L318,481" />
<path class="m" d="M341,395.4 L345.7,393 L360,400 L360,407 L355.2,409.6 L341,402.5 Z" />
<path class="n" d="M341,395.4 L355.2,402.5 L360,400 M355.2,402.5 L355.2,409.6" />
<ellipse class="k" cx="345.5" cy="401.5" rx="0.7" ry="0.7" />
<path class="n" d="M372,422 L394.4,414 L402.7,418 L402.7,432.2 L396,436 C390,440 385,446 384,451" />
<path class="m" d="M392,440 L392,447 C398,453 412,453.5 421,448 L430,446.5" />
<path class="m" d="M396,428 L403,425 L403,436 L396,439 Z" />
<path class="n" d="M368,425 L380,432 L394,421.5" />
<path class="m" d="M358.8,408.4 L385,396.6 L393.2,400 L393.2,410.8 L364.7,422.7 L358.8,419 Z" />
<path class="n" d="M358.8,408.4 L364.7,412 L393.2,400 M364.7,412 L364.7,422.7" />
<ellipse class="k" cx="371" cy="414.5" rx="0.7" ry="0.7" />
<path class="m" d="M393.2,382.3 L401.6,378.7 L423,389.4 L423,410.8 L417,413.2 L394.4,401.3 Z" />
<path class="n" d="M393.2,382.3 L417,393 L423,389.4 M417,393 L417,413.2" />
<path class="md" d="M399,388.5 L413,395 M399,394.5 L413,401 M408,390 C412,394 412,402 408,405 M404,388 C406,393 406,399 404,403" />
<path class="m" d="M385.5,389 C385,386 388,385 390.5,386 L393.2,387.5 L393.2,396 L389,397 C386,397 385,395 386,393 C384.5,392 384.5,390 385.5,389 Z" />
<path class="m" d="M425.3,412 L434.8,407.3 L440.8,410.8 L440.8,429.8 L436,432 Z" />
<path class="n" d="M434.8,407.3 L434.8,414" />
<path class="m" d="M441,413 L446,411.5 C449,411 449.5,414.5 447.5,416 L447.5,424 C451,427 451,431 447.5,431.5 C445,431.5 444,429 444.5,426.5 L441,425" />
<path class="m" d="M402.7,413.2 L408.7,409.6 L436,424 L436,443 L430,446.5 L402.7,432.2 Z" />
<path class="n" d="M402.7,413.2 L430,426.3 L436,424 M430,426.3 L430,446.5" />
<path class="md" d="M407,420.5 L426,429.5 M407,426.5 L426,435.5" />
<ellipse class="n" cx="433" cy="435" rx="1" ry="1.5" />
<path class="m" d="M400,450 L400,518 L407.5,518 L407.5,452 Z" />
<path class="m" d="M398.5,518 L411,518 L411,524 L409,526.5 L400.5,526.5 L398.5,524 Z" />
<path class="n" d="M398.5,521.5 L411,521.5" />
<path class="m" d="M412,489 L437,452 L441,449.5 L443,451.5 L415,491.5 Z" />
<path class="n" d="M439,452 L446,455 C448,456 448,459 446,459 M437,456 L438,466 C439,469 443,469 443,466 L442,459" />
</g>
<g id="labels">
<circle class="lc" cx="375.4" cy="378.7" r="7.6"/>
<text class="lt" x="375.4" y="383.02" font-size="12">1</text>
<circle class="lc" cx="479.5" cy="390.8" r="7.8"/>
<text class="lt" x="479.5" y="395.12" font-size="12">2</text>
<circle class="lc" cx="344.5" cy="319" r="7.5"/>
<text class="lt" x="344.5" y="323.32" font-size="12">3</text>
<circle class="lc" cx="609" cy="219" r="7.8"/>
<text class="lt" x="609" y="223.32" font-size="12">4</text>
<circle class="lc" cx="494" cy="199.5" r="7.6"/>
<text class="lt" x="494" y="203.82" font-size="12">5</text>
<circle class="lc" cx="631.4" cy="114.4" r="6.8"/>
<text class="lt" x="631.4" y="118.54" font-size="11.5">6</text>
<line class="ld" x1="515.5" y1="60.5" x2="537" y2="71.6"/>
<circle class="lc" cx="508.6" cy="56" r="7.8"/>
<text class="lt" x="508.6" y="60.32" font-size="12">8</text>
<line class="ld" x1="421" y1="137.5" x2="428.5" y2="146.5"/>
<circle class="lc" cx="415.6" cy="132.6" r="7.2"/>
<text class="lt" x="415.6" y="136.74" font-size="11.5">9</text>
<line class="ld" x1="358.5" y1="166.3" x2="370.5" y2="183.8"/>
<circle class="lc" cx="354" cy="159.5" r="8"/>
<text class="lt" x="354" y="163.82" font-size="12">10</text>
<line class="ld" x1="68" y1="293.5" x2="85.4" y2="317.4"/>
<circle class="lc" cx="63.7" cy="286.7" r="7.8"/>
<text class="lt" x="63.7" y="291.02" font-size="12">11</text>
<line class="ld" x1="302.4" y1="423.2" x2="303.4" y2="443"/>
<line class="ld" x1="306.5" y1="421.9" x2="338" y2="464"/>
<circle class="lc" cx="301.5" cy="415.2" r="8"/>
<text class="lt" x="301.5" y="419.52" font-size="12">12</text>
<line class="ld" x1="598" y1="121.4" x2="612.6" y2="91"/>
<circle class="lc" cx="595.2" cy="128.7" r="7.6"/>
<text class="lt" x="595.2" y="133.02" font-size="12">13</text>
<line class="ld" x1="540.5" y1="249" x2="560" y2="222"/>
<circle class="lc" cx="536.4" cy="255.9" r="7.8"/>
<text class="lt" x="536.4" y="260.364" font-size="12.4">14</text>
<line class="ld" x1="703" y1="165.5" x2="684" y2="186"/>
<circle class="lc" cx="708.6" cy="160.3" r="7.6"/>
<text class="lt" x="708.6" y="164.62" font-size="12">15</text>
<line class="ld" x1="737.2" y1="238" x2="698" y2="222"/>
<circle class="lc" cx="745" cy="240.5" r="8"/>
<text class="lt" x="745" y="244.82" font-size="12">16</text>
<circle class="lc" cx="597.3" cy="337.8" r="8"/>
<text class="lt" x="597.3" y="342.12" font-size="12">17</text>
<line class="ld" x1="580.7" y1="442.5" x2="564" y2="439"/>
<circle class="lc" cx="589" cy="444.4" r="8.3"/>
<text class="lt" x="589" y="448.72" font-size="12">18</text>
<line class="ld" x1="528" y1="471.6" x2="539" y2="447"/>
<circle class="lc" cx="526.3" cy="480" r="8.5"/>
<text class="lt" x="526.3" y="484.32" font-size="12">19</text>
<circle class="lc" cx="475" cy="435.4" r="9"/>
<text class="lt" x="475" y="439.936" font-size="12.6">20</text>
<line class="ld" x1="365.8" y1="468.5" x2="347.5" y2="403.6"/>
<line class="ld" x1="375.6" y1="471.8" x2="399.4" y2="456.4"/>
<circle class="lc" cx="368.6" cy="476.6" r="8.3"/>
<text class="lt" x="368.6" y="480.92" font-size="12">21</text>
<circle class="lc" cx="272.8" cy="349.5" r="9.4"/>
<text class="lt" x="272.8" y="354.18" font-size="13">22</text>
<circle class="lc" cx="403.5" cy="305.3" r="9"/>
<text class="lt" x="403.5" y="309.836" font-size="12.6">23</text>
<circle class="lc" cx="504" cy="286.3" r="8.8"/>
<text class="lt" x="504" y="290.98" font-size="13">24</text>
<line class="ld" x1="474.2" y1="257.5" x2="499" y2="253"/>
<circle class="lc" cx="464.6" cy="257.8" r="9.6"/>
<text class="lt" x="464.6" y="262.588" font-size="13.3">25</text>
<line class="ld" x1="432" y1="469" x2="433.3" y2="514.7"/>
<circle class="lc" cx="433.5" cy="523.7" r="9"/>
<text class="lt" x="433.5" y="528.38" font-size="13">26</text>
<circle cx="370.5" cy="183.8" r="1.1" fill="#0a0a0a"/>
<circle cx="85.4" cy="317.4" r="1.1" fill="#0a0a0a"/>
<circle cx="612.6" cy="91" r="1.1" fill="#0a0a0a"/>
<circle cx="539" cy="447" r="1.1" fill="#0a0a0a"/>
<circle cx="564" cy="439" r="1.1" fill="#0a0a0a"/>
<circle cx="303.4" cy="443" r="1.1" fill="#0a0a0a"/>
<circle cx="338" cy="464" r="1.1" fill="#0a0a0a"/>
<circle cx="347.5" cy="403.6" r="1.1" fill="#0a0a0a"/>
</g>
</g>
</svg>
</body></html>
